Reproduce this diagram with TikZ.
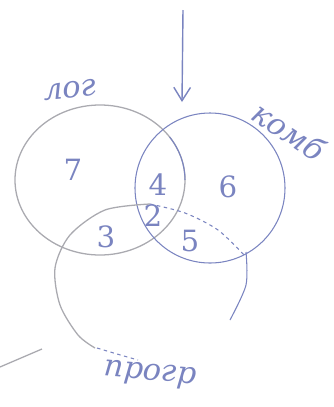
\documentclass[tikz,border=0pt]{standalone}
\usepackage{fontspec}
\setmainfont{DejaVu Serif}
\usetikzlibrary{arrows.meta}
\definecolor{vnInk}{RGB}{122,132,192}
\definecolor{vnPencil}{RGB}{170,170,176}

\begin{document}
\begin{tikzpicture}[x=0.03cm, y=-0.03cm, >={Straight Barb[length=4mm,width=5mm]},
  ink/.style={draw=vnInk, line width=0.9pt},
  pencil/.style={draw=vnPencil, line width=1.1pt},
  num/.style={text=vnInk, font=\fontsize{25}{27}\selectfont, inner sep=0pt},
  lbl/.style={text=vnInk, font=\fontsize{26}{28}\selectfont\itshape, inner sep=0pt}]
  \useasboundingbox (0,0) rectangle (334,407);
  % sets
  \coordinate (log) at (100,180);
  \coordinate (komb) at (210,188);
  \draw[pencil] (log) ellipse [x radius=85, y radius=75];
  \draw[ink] (komb) ellipse [x radius=75, y radius=75];
  \draw[ink] (185,180) arc [start angle=0, end angle=-35, x radius=85, y radius=75];
  \draw[pencil] plot[smooth] coordinates {(150,204) (105,210) (70,235) (55,268) (60,305) (78,335) (95,348)};
  \draw[ink, dashed] plot[smooth] coordinates {(97,348) (117,354) (138,360)};
  \draw[ink, dashed] plot[smooth] coordinates {(150,204) (185,213) (218,230) (245,256)};
  \draw[ink] plot[smooth] coordinates {(246,252) (246,285) (230,320)};
  \draw[pencil] (0,367) -- (42,349);
  % arrow
  \coordinate (arrowtop) at (183,10);
  \coordinate (arrowtip) at (182,102);
  \draw[ink, line width=1.2pt, ->] (arrowtop) -- (arrowtip);
  % regions
  \node[num] (n7) at (73,170) {7};
  \node[num] (n4) at (158,185) {4};
  \node[num] (n6) at (228,187) {6};
  \node[num] (n2) at (153,216) {2};
  \node[num] (n3) at (106,237) {3};
  \node[num] (n5) at (190,241) {5};
  % labels
  \node[lbl, rotate=5] (lLog) at (70,90) {лог};
  \node[lbl, rotate=-34] (lKomb) at (289,131) {комб};
  \node[lbl, rotate=-5] (lProgr) at (150,375) {прогр};
\end{tikzpicture}
\end{document}
